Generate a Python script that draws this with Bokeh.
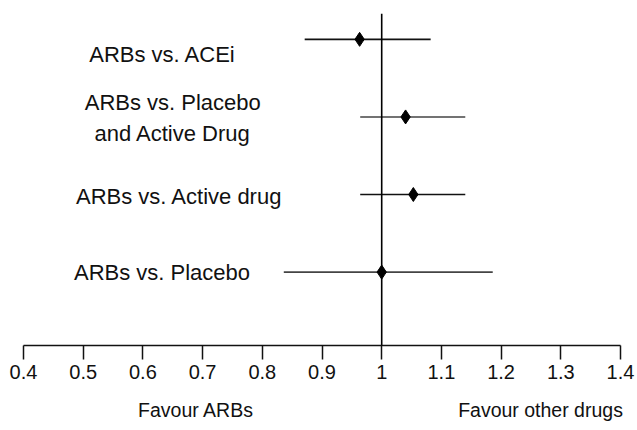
from bokeh.plotting import figure
from bokeh.models import ColumnDataSource, Span, FixedTicker, Range1d, LinearAxis
from bokeh.embed import file_html
from bokeh.resources import INLINE
from bokeh.core.properties import value

# ---- data ----
comparisons = ["ARBs vs. ACEi", "ARBs vs. Placebo\nand Active Drug",
               "ARBs vs. Active drug", "ARBs vs. Placebo"]
estimate = [0.963, 1.040, 1.053, 1.000]
ci_lower = [0.871, 0.964, 0.964, 0.836]
ci_upper = [1.082, 1.140, 1.140, 1.186]
tick_values = [0.4, 0.5, 0.6, 0.7, 0.8, 0.9, 1.0, 1.1, 1.2, 1.3, 1.4]
tick_labels = ["0.4", "0.5", "0.6", "0.7", "0.8", "0.9", "1", "1.1", "1.2", "1.3", "1.4"]
favour_labels = ["Favour ARBs", "Favour other drugs"]
null_value = 1.0

# ---- layout / style ----
n = len(comparisons)
row = [n - 1 - i for i in range(n)]
label_x = [0.633, 0.650, 0.661, 0.632]
label_dy = [15, 1, 2, 0]
favour_x = [0.689, 1.266]
line_colors = ["#111111", "#444444", "#111111", "#444444"]
FONT = "Liberation Sans"
INK = "#111111"

src = ColumnDataSource(dict(comp=comparisons, est=estimate, lo=ci_lower, hi=ci_upper,
                            row=row, lx=label_x, ldy=label_dy, lc=line_colors))

p = figure(width=637, height=430, x_range=Range1d(0.4, 1.4), y_range=Range1d(-0.946, 3.333),
           output_backend="svg", toolbar_location=None, y_axis_location=None,
           min_border_left=23, min_border_right=17, min_border_top=13, min_border_bottom=85)

p.segment(x0="lo", y0="row", x1="hi", y1="row", line_color="lc", line_width=1.6, source=src)
p.scatter("est", "row", marker="diamond", size=14, color="black", source=src)
p.text(x="lx", y="row", text="comp", y_offset="ldy", text_align="center",
       text_baseline="middle", text_font=value(FONT), text_font_size="22px",
       text_line_height=1.25, text_color=INK, source=src)

p.add_layout(Span(location=null_value, dimension="height", line_color="black", line_width=1.6))

ax = p.xaxis[0]
ax.ticker = FixedTicker(ticks=tick_values)
ax.major_label_overrides = dict(zip(tick_values, tick_labels))
ax.minor_tick_line_color = None
ax.major_tick_in = 0
ax.major_tick_out = 14
ax.axis_line_width = 1.5
ax.major_tick_line_width = 1.5
ax.axis_line_color = INK
ax.major_tick_line_color = INK
ax.major_label_text_font = FONT
ax.major_label_text_font_size = "20px"
ax.major_label_text_color = INK
ax.major_label_standoff = 5

fav = LinearAxis(ticker=FixedTicker(ticks=favour_x),
                 major_label_overrides=dict(zip(favour_x, favour_labels)))
fav.axis_line_color = None
fav.major_tick_line_color = None
fav.minor_tick_line_color = None
fav.major_tick_out = 0
fav.major_tick_in = 0
fav.major_label_standoff = 17
fav.major_label_text_font = FONT
fav.major_label_text_font_size = "19.5px"
fav.major_label_text_color = INK
p.add_layout(fav, "below")

p.xgrid.visible = False
p.ygrid.visible = False
p.outline_line_color = None

open("out.html", "w").write(file_html(p, INLINE))
